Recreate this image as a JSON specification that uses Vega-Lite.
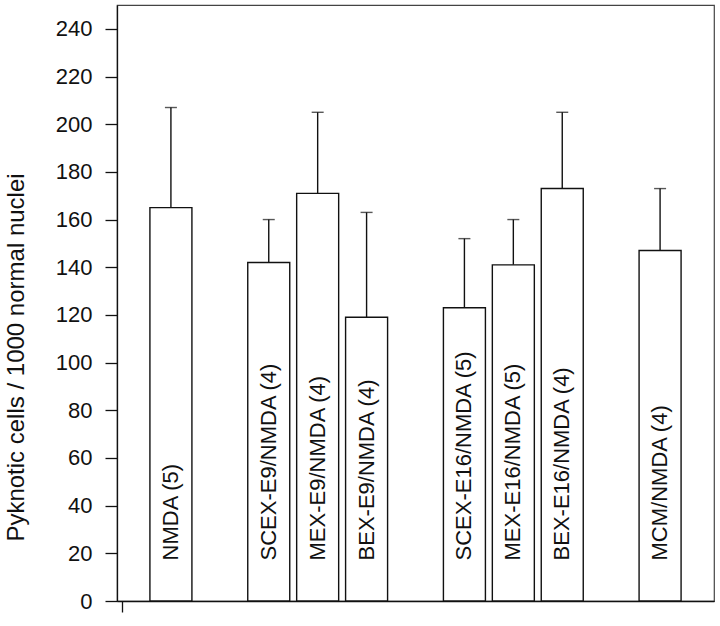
{
  "$schema": "https://vega.github.io/schema/vega-lite/v6.json",
  "width": 597,
  "height": 596,
  "autosize": {"type": "none"},
  "padding": {"left": 117, "top": 5, "right": 6, "bottom": 25},
  "background": "white",
  "config": {
    "font": "Liberation Sans",
    "view": {"stroke": "#444", "strokeWidth": 1.2},
    "axis": {"domainColor": "#111", "tickColor": "#111", "labelColor": "#111", "titleColor": "#111", "domainWidth": 1.3, "tickWidth": 1.3, "grid": false}
  },
  "data": {
    "values": [
      {"group": "NMDA (5)", "pos": 1, "mean": 165, "upper": 207},
      {"group": "SCEX-E9/NMDA (4)", "pos": 3, "mean": 142, "upper": 160},
      {"group": "MEX-E9/NMDA (4)", "pos": 4, "mean": 171, "upper": 205},
      {"group": "BEX-E9/NMDA (4)", "pos": 5, "mean": 119, "upper": 163},
      {"group": "SCEX-E16/NMDA (5)", "pos": 7, "mean": 123, "upper": 152},
      {"group": "MEX-E16/NMDA (5)", "pos": 8, "mean": 141, "upper": 160},
      {"group": "BEX-E16/NMDA (4)", "pos": 9, "mean": 173, "upper": 205},
      {"group": "MCM/NMDA (4)", "pos": 11, "mean": 147, "upper": 173}
    ]
  },
  "encoding": {
    "x": {
      "field": "pos", "type": "quantitative",
      "scale": {"domain": [0, 12], "nice": false, "zero": false},
      "axis": {"title": null, "values": [0], "labels": false, "tickSize": 11}
    }
  },
  "layer": [
    {
      "mark": {"type": "rule", "color": "#111", "strokeWidth": 1.4},
      "encoding": {
        "y": {"field": "mean", "type": "quantitative"},
        "y2": {"field": "upper"}
      }
    },
    {
      "mark": {"type": "tick", "orient": "horizontal", "size": 12, "thickness": 1.4, "color": "#111"},
      "encoding": {
        "y": {"field": "upper", "type": "quantitative"}
      }
    },
    {
      "mark": {"type": "bar", "size": 42, "fill": "white", "stroke": "#111", "strokeWidth": 1.4},
      "encoding": {
        "y": {
          "field": "mean", "type": "quantitative",
          "scale": {"domain": [0, 250], "nice": false},
          "axis": {
            "title": "Pyknotic cells / 1000 normal nuclei",
            "values": [0, 20, 40, 60, 80, 100, 120, 140, 160, 180, 200, 220, 240],
            "tickSize": 12, "labelPadding": 13, "labelFontSize": 22,
            "titleFontSize": 24, "titleFontWeight": "normal",
            "titleX": -94, "titleY": 352, "titleAngle": 270, "titleAlign": "center", "titleBaseline": "alphabetic"
          }
        }
      }
    },
    {
      "mark": {"type": "text", "angle": 270, "align": "left", "baseline": "middle", "fontSize": 22, "color": "#111"},
      "encoding": {
        "y": {"datum": 17},
        "text": {"field": "group"}
      }
    }
  ]
}
